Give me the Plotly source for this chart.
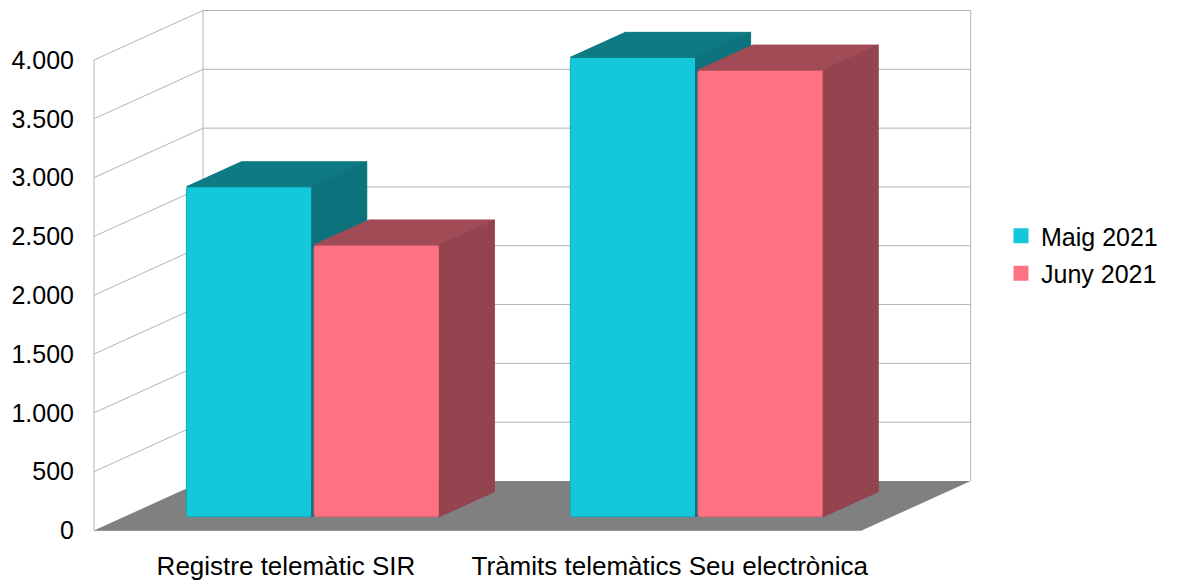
import plotly.graph_objects as go

# ---- data -----------------------------------------------------------------
categories = ["Registre telemàtic SIR", "Tràmits telemàtics Seu electrònica"]
series_names = ["Maig 2021", "Juny 2021"]
maig_2021 = [2805, 3905]
juny_2021 = [2310, 3797]
y_ticks = [0, 500, 1000, 1500, 2000, 2500, 3000, 3500, 4000]

# ---- styling --------------------------------------------------------------
front_colors = ["#14c8dc", "#ff7282"]
top_colors = ["#0d7a84", "#a04b55"]
side_colors = ["#0c737d", "#93444e"]
edge_colors = ["#10acbd", "#e8606f"]
grid_color = "#b3b3b3"
floor_color = "#808080"
FONT = "Liberation Sans, Arial, sans-serif"

# ---- canvas and scale -----------------------------------------------------
W, H = 1178, 580
ML, MB = 80, 44
PX_PER_CAT = 383.85          # pixels per category slot
PX_PER_VAL = 470.5 / 4000    # pixels per value unit
ORIGIN_PX = (94, 530.5)      # front corner of the floor
DEPTH_PX = (109, 49.5)       # oblique offset of the full floor depth

plot_w = W - ML
plot_h = H - MB
x0 = -(ORIGIN_PX[0] - ML) / PX_PER_CAT
x1 = x0 + plot_w / PX_PER_CAT
y0 = -(plot_h - ORIGIN_PX[1]) / PX_PER_VAL
y1 = y0 + plot_h / PX_PER_VAL
ddx = DEPTH_PX[0] / PX_PER_CAT   # depth offset in category units
ddy = DEPTH_PX[1] / PX_PER_VAL   # depth offset in value units

n = len(categories)
top = max(y_ticks)

# bar geometry (in category units / depth fractions)
bar_w = 0.3264
bar_gap = 0.006
group_shift = -0.009
depth_front = 0.279
depth_back = 0.784

shapes = []


def seg(xa, ya, xb, yb, color=grid_color, width=1, layer="below"):
    shapes.append(dict(type="line", xref="x", yref="y", x0=xa, y0=ya, x1=xb, y1=yb,
                       line=dict(color=color, width=width), layer=layer))


# gridlines on the left wall and back wall
for v in y_ticks[1:]:
    seg(0, v, ddx, v + ddy)
    seg(ddx, v + ddy, n + ddx, v + ddy)

# wall edges
seg(ddx, ddy, ddx, top + ddy)
seg(n + ddx, ddy, n + ddx, top + ddy)

# floor
shapes.append(dict(
    type="path", xref="x", yref="y", layer="below",
    path=f"M 0,0 L {n},0 L {n + ddx},{ddy} L {ddx},{ddy} Z",
    fillcolor=floor_color, line=dict(width=0),
))
seg(0, 0, 0, top)
seg(0, 0, n, 0, color="#9a9a9a")

fig = go.Figure()

series_values = [maig_2021, juny_2021]
for s, vals in enumerate(series_values):
    offset = (s - 0.5) * (bar_w + bar_gap) + group_shift
    xl = [i + 0.5 + offset - bar_w / 2 for i in range(n)]
    xr = [x + bar_w for x in xl]
    fx = depth_front * ddx
    fy = depth_front * ddy
    bx = depth_back * ddx
    by = depth_back * ddy

    # front faces
    fig.add_trace(go.Bar(
        x=[(a + b) / 2 + fx for a, b in zip(xl, xr)], y=vals, base=[fy] * n,
        width=bar_w, marker=dict(color=front_colors[s],
                                 line=dict(color=edge_colors[s], width=1),
                                 cornerradius=3),
        showlegend=False, hoverinfo="skip", zorder=s + 1,
    ))

    # top faces
    tx, ty = [], []
    for a, b, v in zip(xl, xr, vals):
        tx += [a + fx, b + fx, b + bx, a + bx, a + fx, None]
        ty += [fy + v, fy + v, by + v, by + v, fy + v, None]
    fig.add_trace(go.Scatter(
        x=tx, y=ty, mode="lines", fill="toself", fillcolor=top_colors[s],
        line=dict(color=top_colors[s], width=1), showlegend=False,
        hoverinfo="skip", zorder=s + 1,
    ))

    # side faces
    sx, sy = [], []
    for b, v in zip(xr, vals):
        sx += [b + fx, b + bx, b + bx, b + fx, b + fx, None]
        sy += [fy, by, by + v, fy + v, fy, None]
    fig.add_trace(go.Scatter(
        x=sx, y=sy, mode="lines", fill="toself", fillcolor=side_colors[s],
        line=dict(color=side_colors[s], width=1), showlegend=False,
        hoverinfo="skip", zorder=s + 1,
    ))

# legend entries
for s, name in enumerate(series_names):
    fig.add_trace(go.Scatter(
        x=[None], y=[None], mode="markers", name=name, legendgroup=name,
        marker=dict(symbol="square", size=15, color=front_colors[s]),
    ))

fig.update_layout(
    template="none",
    width=W, height=H,
    margin=dict(l=ML, r=0, t=0, b=MB, pad=0),
    paper_bgcolor="white", plot_bgcolor="white",
    font=dict(family=FONT, size=25, color="black"),
    separators=",.",
    barmode="overlay",
    shapes=shapes,
    showlegend=True,
    legend=dict(
        x=(1001 - ML) / plot_w, xanchor="left",
        y=1 - 254.5 / plot_h, yanchor="middle",
        font=dict(family=FONT, size=25, color="black"),
        bgcolor="rgba(0,0,0,0)", tracegroupgap=2,
    ),
    xaxis=dict(
        range=[x0, x1], tickvals=[i + 0.5 for i in range(n)], ticktext=categories,
        showgrid=False, zeroline=False, showline=False, ticks="",
        tickfont=dict(family=FONT, size=26, color="black"),
        ticklabelstandoff=12, automargin=False, fixedrange=True,
    ),
    yaxis=dict(
        range=[y0, y1], tickvals=y_ticks, tickformat=",",
        showgrid=False, zeroline=False, showline=False, ticks="",
        tickfont=dict(family=FONT, size=25, color="black"),
        ticklabelstandoff=5, automargin=False, fixedrange=True,
    ),
)

fig.write_html("out.html", config={"displayModeBar": False})
